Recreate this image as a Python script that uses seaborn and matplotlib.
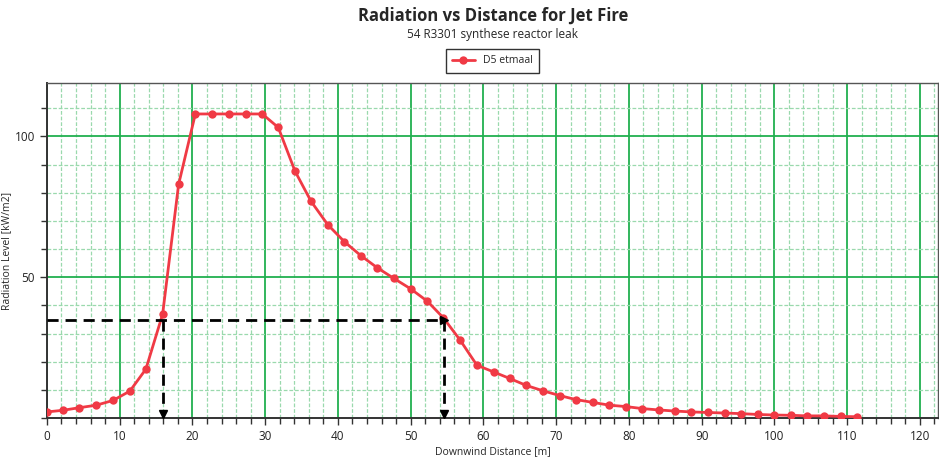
import numpy as np
import pandas as pd
import matplotlib
matplotlib.use("Agg")
import matplotlib.pyplot as plt
import seaborn as sns
from matplotlib.ticker import MultipleLocator, FixedLocator

# -----------------------------
# Data
# -----------------------------
distance = [0.0, 2.25, 4.45, 6.8, 9.1, 11.4, 13.6, 15.9,
            18.1, 20.4, 22.7, 25.0, 27.3, 29.6,
            31.8, 34.1, 36.3, 38.6, 40.9, 43.2, 45.4, 47.7, 50.0, 52.3, 54.5, 56.8,
            59.1, 61.4, 63.6, 65.9, 68.2, 70.5, 72.7, 75.0, 77.3, 79.6, 81.8, 84.1,
            86.4, 88.6, 90.9, 93.2, 95.4, 97.7, 100.0, 102.3, 104.5, 106.8, 109.1, 111.4]
radiation = [2.2, 2.8, 3.7, 4.6, 6.3, 9.6, 17.4, 36.9,
             83.0, 108.0, 108.0, 108.0, 108.0, 108.0,
             103.2, 87.7, 77.0, 68.7, 62.6, 57.6, 53.4, 49.6, 45.9, 41.5, 35.6, 27.7,
             18.8, 16.4, 14.1, 11.6, 9.7, 8.0, 6.6, 5.6, 4.6, 4.1, 3.4, 2.9,
             2.5, 2.2, 2.0, 1.8, 1.6, 1.3, 1.1, 1.0, 0.8, 0.8, 0.6, 0.5]

# Threshold level and where the curve crosses it
threshold = 35.0
crossings = [15.9, 54.6]

df = pd.DataFrame({"Downwind Distance [m]": distance,
                   "Radiation Level [kW/m2]": radiation,
                   "serie": "D5 etmaal"})

sns.set_theme(style="white")
plt.rcParams["font.family"] = ["Open Sans", "DejaVu Sans"]

fig = plt.figure(figsize=(9.39, 4.61), dpi=100)
ax = fig.add_axes([0.050, 0.093, 0.949, 0.727])

red = "#f03a45"
sns.lineplot(data=df, x="Downwind Distance [m]", y="Radiation Level [kW/m2]",
             hue="serie", palette=[red], marker="o", markersize=6,
             markeredgewidth=0, linewidth=2, ax=ax, zorder=5)

# -----------------------------
# Threshold lines with arrows
# -----------------------------
ax.plot([0, crossings[1]], [threshold, threshold], color="black", ls=(0, (4, 2.5)),
        lw=2, zorder=6)
ax.plot([crossings[1]], [threshold], marker=">", color="black", ms=6, zorder=7)
for xc in crossings:
    ax.plot([xc, xc], [threshold, 0], color="black", ls=(0, (4, 2.5)), lw=2, zorder=6)
    ax.plot([xc], [1.6], marker="v", color="black", ms=6, zorder=7, clip_on=False)

# -----------------------------
# Axes, grid and ticks
# -----------------------------
ax.set_xlim(0, 122.5)
ax.set_ylim(0, 119)
ax.xaxis.set_major_locator(MultipleLocator(10))
ax.xaxis.set_minor_locator(MultipleLocator(2))
ax.yaxis.set_major_locator(FixedLocator([50, 100]))
ax.yaxis.set_minor_locator(MultipleLocator(10))

ax.grid(which="major", color="#21b04f", lw=1.3, ls="-")
ax.grid(which="minor", color="#9ad9ad", lw=0.9, ls=(0, (3, 1.5)))
ax.set_axisbelow(True)

ax.tick_params(which="both", direction="out", color="#333333", labelsize=8.5,
               bottom=True, left=True, labelcolor="#222222")
ax.tick_params(which="major", length=5, width=1)
ax.tick_params(which="minor", length=4, width=1)

for side in ["left", "bottom"]:
    ax.spines[side].set_color("#333333")
    ax.spines[side].set_linewidth(1.4)
for side in ["top", "right"]:
    ax.spines[side].set_color("#555555")
    ax.spines[side].set_linewidth(1.0)

ax.set_xlabel("Downwind Distance [m]", fontsize=7.5, labelpad=2)
ax.set_ylabel("Radiation Level [kW/m2]", fontsize=7.5)
ax.yaxis.set_label_coords(-0.039, 0.5)

leg = ax.legend(loc="lower center", bbox_to_anchor=(0.5, 1.015), fontsize=7.5,
                frameon=True, fancybox=False, edgecolor="black", handlelength=2.2,
                borderpad=0.6)
leg.get_frame().set_linewidth(1.0)

fig.text(0.525, 0.965, "Radiation vs Distance for Jet Fire", ha="center", va="center",
         fontsize=12, fontweight="bold")
fig.text(0.525, 0.925, "54 R3301 synthese reactor leak", ha="center", va="center",
         fontsize=8.5)

fig.savefig("out.png", dpi=100)
